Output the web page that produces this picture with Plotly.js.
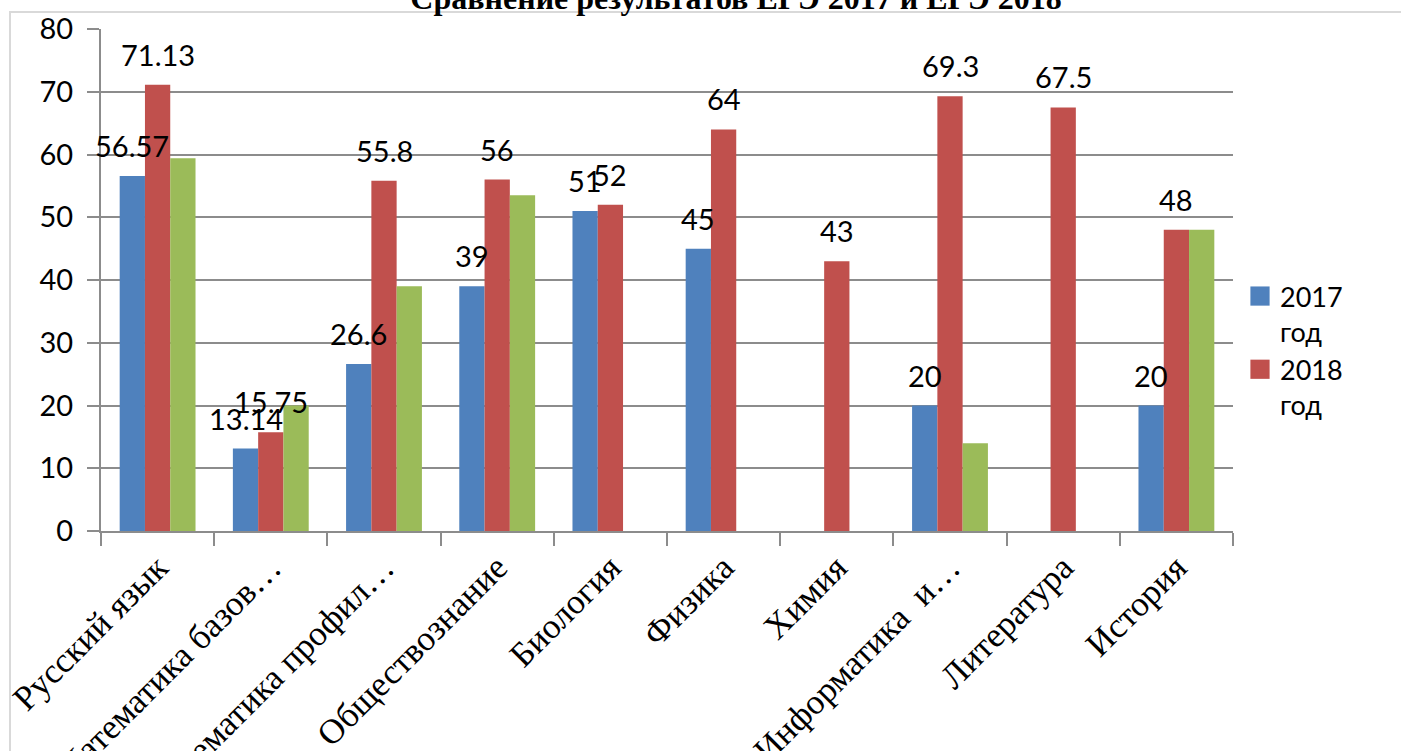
<!DOCTYPE html>
<html>
<head>
<meta charset="utf-8">
<script src="https://cdn.plot.ly/plotly-3.0.1.min.js"></script>
<style>html,body{margin:0;padding:0;background:#fff;overflow:hidden;} #chart{width:1401px;height:751px;}</style>
</head>
<body>
<div id="chart"></div>
<script>
const categories = ["Русский язык", "Математика базов…", "Математика профил…", "Обществознание", "Биология", "Физика", "Химия", "Информатика  и…", "Литература", "История"];
const values2017 = [56.57, 13.14, 26.6, 39, 51, 45, null, 20, null, 20];
const values2018 = [71.13, 15.75, 55.8, 56, 52, 64, 43, 69.3, 67.5, 48];
const values2019 = [59.4, 20, 39, 53.5, null, null, null, 14, null, 48];
const seriesNames = ["2017<br>год", "2018<br>год", ""];
const colors = ["#4F81BD", "#C0504D", "#9BBB59"];
const yTicks = [0, 10, 20, 30, 40, 50, 60, 70, 80];
const titleText = "Сравнение результатов ЕГЭ 2017 и ЕГЭ 2018";

const W = 1401, H = 751;
const margin = {l: 101, r: 168, t: 29, b: 220, pad: 0};
const bargap = 0.33;
const plotW = W - margin.l - margin.r;
const plotH = H - margin.t - margin.b;
const catW = plotW / categories.length;
const barW = catW * (1 - bargap) / 3;

const series = [values2017, values2018, values2019];
const traces = series.map((vals, s) => ({
  type: 'bar',
  x: categories,
  y: vals,
  name: seriesNames[s],
  marker: {color: colors[s]},
  showlegend: s < 2,
  hoverinfo: 'skip'
}));

const labelFont = {family: 'Lato, "Open Sans", sans-serif', size: 29, color: '#000'};
const annotations = [];
[values2017, values2018].forEach((vals, s) => {
  vals.forEach((v, i) => {
    if (v === null) return;
    annotations.push({
      x: categories[i], y: v, xref: 'x', yref: 'y',
      text: String(v), showarrow: false,
      xanchor: 'center', yanchor: 'bottom',
      xshift: (s - 1) * barW, yshift: 11,
      font: labelFont
    });
  });
});

const layout = {
  width: W, height: H,
  margin: margin,
  paper_bgcolor: '#fff', plot_bgcolor: '#fff',
  barmode: 'group', bargap: bargap, bargroupgap: 0,
  title: {
    text: '<b>' + titleText + '</b>',
    font: {family: '"Liberation Serif", "Times New Roman", serif', size: 32, color: '#000'},
    xref: 'container', x: 736 / W, xanchor: 'center',
    yref: 'paper', y: 1, yanchor: 'bottom',
    pad: {b: 20}
  },
  xaxis: {
    type: 'category',
    range: [-0.5, categories.length - 0.5],
    autorange: false,
    tickson: 'boundaries',
    ticks: 'outside', ticklen: 13, tickwidth: 2, tickcolor: '#8c8c8c',
    showline: true, linecolor: '#8c8c8c', linewidth: 2,
    showgrid: false,
    tickangle: -45,
    tickfont: {family: '"Liberation Serif", "Times New Roman", serif', size: 35, color: '#000'},
    automargin: false
  },
  yaxis: {
    range: [0, 80], autorange: false, tickvals: yTicks,
    ticks: 'outside', ticklen: 12, tickwidth: 2, tickcolor: '#8c8c8c',
    showline: true, linecolor: '#8c8c8c', linewidth: 2,
    showgrid: true, gridcolor: '#8c8c8c', gridwidth: 2,
    zeroline: false,
    ticklabelstandoff: 8,
    tickfont: {family: 'Lato, "Open Sans", sans-serif', size: 29, color: '#000'},
    automargin: false
  },
  legend: {
    xref: 'container', yref: 'container',
    x: 1240 / W, xanchor: 'left',
    y: 1 - 272 / H, yanchor: 'top',
    valign: 'top',
    font: {family: 'Lato, "Open Sans", sans-serif', size: 27, color: '#000'},
    bgcolor: 'rgba(0,0,0,0)',
    tracegroupgap: 0
  },
  annotations: annotations,
  shapes: [{
    type: 'path', xref: 'paper', yref: 'paper',
    path: 'M ' + ((10 - margin.l) / plotW) + ' -2 L ' + ((10 - margin.l) / plotW) + ' ' + ((H - margin.b - 12) / plotH) + ' L 2 ' + ((H - margin.b - 12) / plotH),
    line: {color: '#d9d9d9', width: 2}
  }]
};

Plotly.newPlot('chart', traces, layout, {displayModeBar: false, staticPlot: true}).then(gd => {
  gd.querySelectorAll('.legend .legendpoints path').forEach(p => {
    const t = p.getAttribute('transform') || '';
    p.setAttribute('transform', t + ' scale(1.6)');
  });
});
</script>
</body>
</html>
